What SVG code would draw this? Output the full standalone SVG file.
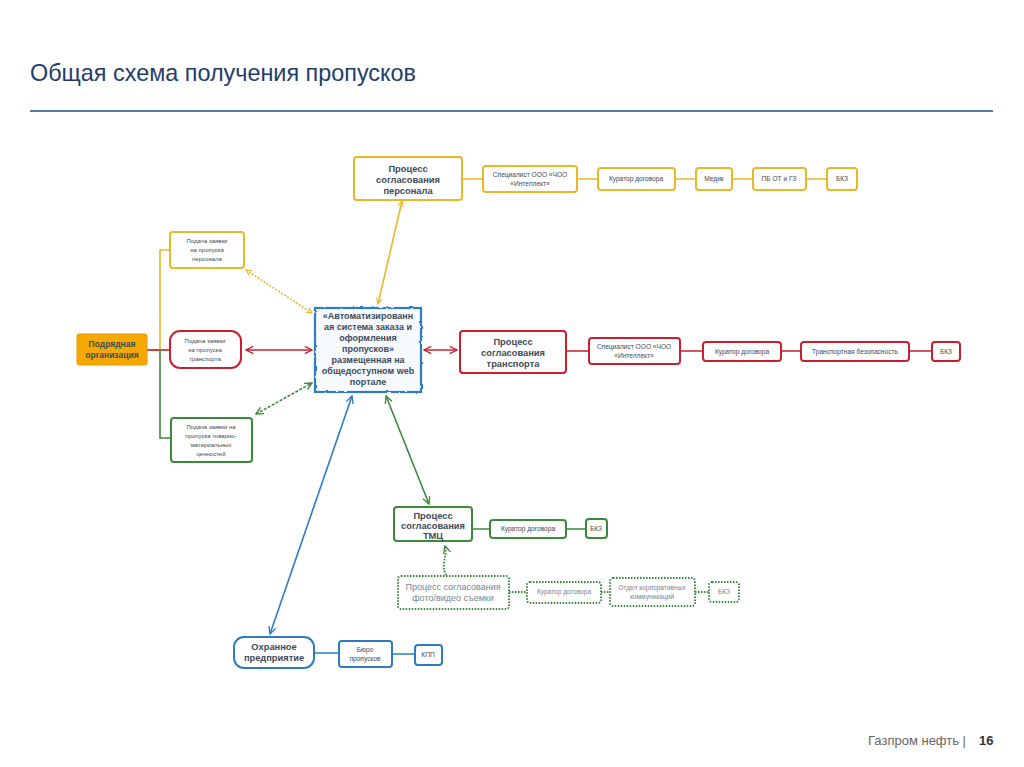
<svg xmlns="http://www.w3.org/2000/svg" width="1024" height="767" viewBox="0 0 1024 767">
<style>
.t{font-family:"Liberation Sans",Arial,sans-serif;fill:#3c4a5a;text-anchor:middle}
.b{font-weight:bold;font-size:9.3px}
.s{font-size:6.6px}
.y{fill:#fff;stroke:#e8b828;stroke-width:2}
.r{fill:#fff;stroke:#c8202f;stroke-width:2}
.g{fill:#fff;stroke:#3b8a3b;stroke-width:2}
.bl{fill:#fff;stroke:#2e7bc4;stroke-width:2}
.d{fill:#fff;stroke:#3b8a3b;stroke-width:2;stroke-dasharray:1.5 1.5}
.ly{stroke:#e8b828;stroke-width:1.6;fill:none}
.lr{stroke:#c8202f;stroke-width:1.6;fill:none}
.lg{stroke:#3b8a3b;stroke-width:1.6;fill:none}
.lb{stroke:#2e7bc4;stroke-width:1.6;fill:none}
.ld{stroke:#3b8a3b;stroke-width:2;fill:none;stroke-dasharray:1.5 1.5}
.f{fill:#7a8590}
</style>
<defs>
<marker id="ay" viewBox="0 0 10 10" refX="9" refY="5" markerWidth="7" markerHeight="7" orient="auto-start-reverse" markerUnits="userSpaceOnUse"><path d="M1,1 L9,5 L1,9" fill="none" stroke="#e8b828" stroke-width="1.5"/></marker>
<marker id="ar" viewBox="0 0 10 10" refX="9" refY="5" markerWidth="9" markerHeight="9" orient="auto-start-reverse" markerUnits="userSpaceOnUse"><path d="M1,1 L9,5 L1,9" fill="none" stroke="#c8202f" stroke-width="1.5"/></marker>
<marker id="ag" viewBox="0 0 10 10" refX="9" refY="5" markerWidth="9" markerHeight="9" orient="auto-start-reverse" markerUnits="userSpaceOnUse"><path d="M1,1 L9,5 L1,9" fill="none" stroke="#3b8a3b" stroke-width="1.5"/></marker>
<marker id="ab" viewBox="0 0 10 10" refX="9" refY="5" markerWidth="9" markerHeight="9" orient="auto-start-reverse" markerUnits="userSpaceOnUse"><path d="M1,1 L9,5 L1,9" fill="none" stroke="#2e7bc4" stroke-width="1.5"/></marker>
<filter id="wavy" x="-5%" y="-5%" width="110%" height="110%"><feTurbulence type="fractalNoise" baseFrequency="0.2" numOctaves="1" seed="3"/><feDisplacementMap in="SourceGraphic" scale="2.5"/></filter>
</defs>
<rect width="1024" height="767" fill="#fff"/>
<text x="30" y="81" textLength="386" lengthAdjust="spacingAndGlyphs" style="font-family:'Liberation Sans',Arial,sans-serif;font-size:24px;fill:#1f3d6b">Общая схема получения пропусков</text>
<line x1="30" y1="111" x2="993" y2="111" stroke="#1f4e79" stroke-width="1.5"/>
<text x="966" y="745" text-anchor="end" style="font-family:'Liberation Sans',Arial,sans-serif;font-size:13px;fill:#666">Газпром нефть |</text>
<text x="979" y="745" style="font-family:'Liberation Sans',Arial,sans-serif;font-size:13px;font-weight:bold;fill:#333">16</text>

<g id="connectors">
<path class="ly" d="M147,350 H160 V250 H170"/>
<path class="lr" d="M147,350 H170"/>
<path class="lg" d="M160,350 V438 H171"/>
<path class="ly" d="M462,179 H483 M577,179 H598 M675,179 H696 M732,179 H753 M806,179 H827"/>
<path class="lr" d="M566,351 H589 M680,351 H703 M781,351 H801 M909,351 H932"/>
<path class="lg" d="M472,529 H490 M566,529 H586"/>
<path class="ld" d="M509,592 H527 M601,592 H610 M695,592 H709"/>
<path class="lb" d="M314,653 H339 M392,654 H415"/>
<path class="ly" d="M246,270 L312,313" stroke-dasharray="2 1.5" marker-start="url(#ay)" marker-end="url(#ay)"/>
<path class="ly" d="M378,304 L402,201" marker-start="url(#ay)" marker-end="url(#ay)"/>
<path class="lr" d="M246,350 L312,350" marker-start="url(#ar)" marker-end="url(#ar)"/>
<path class="lr" d="M424,350 L457,350" marker-start="url(#ar)" marker-end="url(#ar)"/>
<path class="lg" d="M256,414 L312,383" stroke-dasharray="3 1.5" marker-start="url(#ag)" marker-end="url(#ag)"/>
<path class="lg" d="M386,396 L429,504" marker-start="url(#ag)" marker-end="url(#ag)"/>
<path class="lb" d="M352,396 L270,634" marker-start="url(#ab)" marker-end="url(#ab)"/>
<path class="ld" d="M446,575 C440,565 448,556 445,546" marker-end="url(#ag)"/>
</g>

<g id="personnel-process"><rect class="y" x="354" y="157" width="108" height="43" rx="3"/><text class="t b"><tspan x="408" y="172">Процесс</tspan><tspan x="408" y="183">согласования</tspan><tspan x="408" y="194">персонала</tspan></text></g>
<g id="p-spec"><rect class="y" x="483" y="166" width="94" height="26" rx="3"/><text class="t s"><tspan x="530" y="177">Специалист ООО «ЧОО</tspan><tspan x="530" y="186">«Интеллект»</tspan></text></g>
<g id="p-curator"><rect class="y" x="598" y="168" width="77" height="22" rx="3"/><text class="t s" x="636" y="181">Куратор договора</text></g>
<g id="p-medic"><rect class="y" x="696" y="168" width="36" height="22" rx="3"/><text class="t s" x="714" y="181">Медик</text></g>
<g id="p-pb"><rect class="y" x="753" y="168" width="53" height="22" rx="3"/><text class="t s" x="779" y="181">ПБ ОТ и ГЗ</text></g>
<g id="p-bkz"><rect class="y" x="827" y="168" width="30" height="22" rx="3"/><text class="t s" x="842" y="181">БКЗ</text></g>

<g id="contractor"><rect x="77" y="334" width="70" height="31" rx="2" fill="#f5a800" stroke="#e89a00"/><text class="t b" style="font-size:8.5px"><tspan x="112" y="347">Подрядная</tspan><tspan x="112" y="358">организация</tspan></text></g>
<g id="req-personnel"><rect class="y" x="170" y="232" width="74" height="36" rx="3"/><text class="t s" style="font-size:6px"><tspan x="207" y="243">Подача заявки</tspan><tspan x="207" y="252">на пропуска</tspan><tspan x="207" y="261">персонала</tspan></text></g>
<g id="req-transport"><rect class="r" x="170" y="331" width="71" height="37" rx="10"/><text class="t s" style="font-size:6px"><tspan x="205" y="343">Подача заявки</tspan><tspan x="205" y="352">на пропуска</tspan><tspan x="205" y="361">транспорта</tspan></text></g>
<g id="req-tmc"><rect class="g" x="171" y="418" width="81" height="44" rx="3"/><text class="t s" style="font-size:6px"><tspan x="211" y="429">Подача заявки на</tspan><tspan x="211" y="438">пропуска товарно-</tspan><tspan x="211" y="447">материальных</tspan><tspan x="211" y="456">ценностей</tspan></text></g>

<g id="portal"><rect x="315" y="308" width="106" height="84" fill="#f7fbff" stroke="#2e7bc4" stroke-width="2.2" filter="url(#wavy)"/><text class="t b" style="font-size:9px"><tspan x="368" y="319">«Автоматизированн</tspan><tspan x="368" y="330">ая система заказа и</tspan><tspan x="368" y="341">оформления</tspan><tspan x="368" y="352">пропусков»</tspan><tspan x="368" y="363">размещенная на</tspan><tspan x="368" y="374">общедоступном web</tspan><tspan x="368" y="385">портале</tspan></text></g>

<g id="transport-process"><rect class="r" x="460" y="331" width="106" height="42" rx="3"/><text class="t b"><tspan x="513" y="345">Процесс</tspan><tspan x="513" y="356">согласования</tspan><tspan x="513" y="367">транспорта</tspan></text></g>
<g id="t-spec"><rect class="r" x="589" y="338" width="91" height="26" rx="3"/><text class="t s"><tspan x="634" y="349">Специалист ООО «ЧОО</tspan><tspan x="634" y="358">«Интеллект»</tspan></text></g>
<g id="t-curator"><rect class="r" x="703" y="342" width="78" height="19" rx="3"/><text class="t s" x="742" y="354">Куратор договора</text></g>
<g id="t-security"><rect class="r" x="801" y="342" width="108" height="19" rx="3"/><text class="t s" x="855" y="354">Транспортная безопасность</text></g>
<g id="t-bkz"><rect class="r" x="932" y="342" width="28" height="19" rx="3"/><text class="t s" x="946" y="354">БКЗ</text></g>

<g id="tmc-process"><rect class="g" x="394" y="507" width="78" height="34" rx="3"/><text class="t b"><tspan x="433" y="519">Процесс</tspan><tspan x="433" y="529">согласования</tspan><tspan x="433" y="539">ТМЦ</tspan></text></g>
<g id="m-curator"><rect class="g" x="490" y="520" width="76" height="18" rx="3"/><text class="t s" x="528" y="531">Куратор договора</text></g>
<g id="m-bkz"><rect class="g" x="586" y="519" width="21" height="19" rx="3"/><text class="t s" x="596" y="531">БКЗ</text></g>

<g id="photo-process"><rect class="d" x="398" y="576" width="111" height="33" rx="3"/><text class="t f" style="font-size:9px"><tspan x="453" y="590">Процесс согласования</tspan><tspan x="453" y="601">фото/видео съемки</tspan></text></g>
<g id="f-curator"><rect class="d" x="527" y="582" width="74" height="21" rx="3"/><text class="t s f" x="564" y="594">Куратор договора</text></g>
<g id="f-comm"><rect class="d" x="610" y="578" width="85" height="28" rx="3"/><text class="t s f"><tspan x="652" y="590">Отдел корпоративных</tspan><tspan x="652" y="599">коммуникаций</tspan></text></g>
<g id="f-bkz"><rect class="d" x="709" y="582" width="30" height="20" rx="3"/><text class="t s f" x="724" y="594">БКЗ</text></g>

<g id="guard"><rect class="bl" x="234" y="637" width="80" height="31" rx="10"/><text class="t b"><tspan x="274" y="650">Охранное</tspan><tspan x="274" y="661">предприятие</tspan></text></g>
<g id="pass-office"><rect class="bl" x="339" y="641" width="53" height="26" rx="3"/><text class="t s"><tspan x="365" y="652">Бюро</tspan><tspan x="365" y="661">пропусков</tspan></text></g>
<g id="kpp"><rect class="bl" x="415" y="645" width="27" height="20" rx="3"/><text class="t s" x="428" y="657">КПП</text></g>
</svg>
